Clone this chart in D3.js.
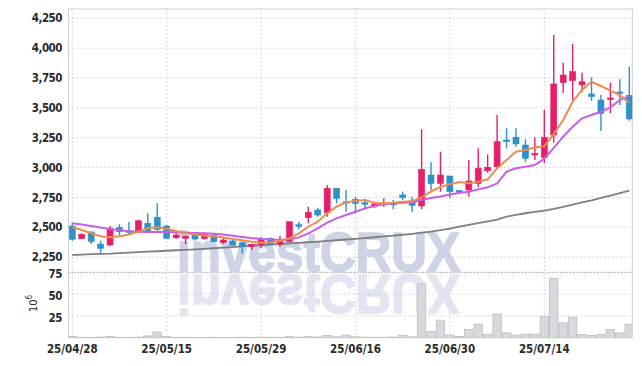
<!DOCTYPE html>
<html>
<head>
<meta charset="utf-8">
<script src="https://cdn.jsdelivr.net/npm/d3@7"></script>
<style>
  body { margin: 0; background: #fff; }
  svg { display: block; }
</style>
</head>
<body>
<div id="chart"></div>
<script>
const dates = ["25/04/28","25/04/29","25/04/30","25/05/02","25/05/07","25/05/08","25/05/09","25/05/12","25/05/13","25/05/14",
  "25/05/15","25/05/16","25/05/19","25/05/20","25/05/21","25/05/22","25/05/23","25/05/26","25/05/27","25/05/28",
  "25/05/29","25/05/30","25/06/02","25/06/04","25/06/05","25/06/09","25/06/10","25/06/11","25/06/12","25/06/13",
  "25/06/16","25/06/17","25/06/18","25/06/19","25/06/20","25/06/23","25/06/24","25/06/25","25/06/26","25/06/27",
  "25/06/30","25/07/01","25/07/02","25/07/03","25/07/04","25/07/07","25/07/08","25/07/09","25/07/10","25/07/11",
  "25/07/14","25/07/15","25/07/16","25/07/17","25/07/18","25/07/21","25/07/22","25/07/23","25/07/24","25/07/25"]

const open = [2511,2405,2461,2360,2352,2497,2472,2463,2534,2584, 2511,2413,2408,2442,2405,2436,2374,2386,2371,2341,
  2358,2408,2360,2380,2522,2581,2645,2622,2827,2715, 2735,2706,2678,2693,2701,2771,2721,2679,2938,2868,
  2930,2808,2812,2868,2974,3007,3231,3254,3189,3111, 3086,3273,3711,3728,3692,3616,3566,3578,3633,3605]
const high = [2539,2450,2466,2388,2511,2525,2545,2563,2617,2701, 2522,2450,2430,2458,2455,2453,2408,2400,2380,2363,
  2419,2416,2427,2547,2547,2673,2664,2854,2827,2812, 2757,2735,2712,2743,2729,2799,2757,3321,3044,3133,
  2930,2812,3064,3162,3111,3440,3329,3329,3237,3254, 3482,4110,3878,4035,3795,3756,3608,3711,3740,3845]
const low = [2388,2400,2360,2287,2343,2436,2442,2455,2458,2472, 2400,2402,2360,2388,2397,2374,2363,2349,2282,2310,
  2324,2352,2338,2380,2483,2534,2589,2589,2701,2631, 2617,2645,2664,2673,2651,2729,2626,2651,2812,2798,
  2743,2790,2757,2835,2957,3003,3162,3175,3049,3064, 3036,3209,3627,3566,3635,3560,3306,3455,3524,3393]
const close = [2400,2441,2380,2324,2492,2463,2458,2555,2472,2483, 2408,2436,2427,2402,2444,2380,2394,2350,2338,2358,
  2402,2358,2386,2547,2514,2626,2603,2827,2743,2706, 2701,2701,2695,2701,2693,2748,2684,2986,2868,2938,
  2798,2796,2888,2994,3003,3217,3217,3198,3078,3119, 3254,3700,3775,3803,3719,3594,3455,3583,3627,3407]

// volume, in 10^6 shares
const volume = [1.5,0.5,0.3,0.8,1.5,0.5,0.4,0.6,2,6.5, 1.5,0.4,0.5,0.4,0.4,0.5,0.3,0.4,0.6,0.4,
  0.6,0.5,0.4,1.2,0.6,1.2,0.8,2.5,1,3, 1,0.6,0.5,0.5,0.7,2.5,1,62,7,20,
  3,1.5,9.5,15.5,4,27,5.5,3,4,4, 24.5,68,17,23.5,3.8,2.5,3.8,9.5,5.5,15.5]

// moving averages as drawn on the chart
const ma5 = [2500,2478,2450,2425,2418,2425,2440,2465,2492,2500, 2488,2470,2452,2440,2432,2425,2414,2402,2392,2380,
  2372,2375,2385,2408,2450,2505,2547,2617,2673,2710, 2720,2729,2705,2700,2706,2715,2718,2752,2800,2838,
  2862,2880,2870,2882,2902,2994,3064,3133,3147,3168, 3178,3280,3398,3552,3650,3719,3683,3644,3608,3543]
const ma20 = [2534,2524,2512,2499,2486,2476,2468,2464,2462,2462, 2460,2458,2455,2452,2450,2446,2440,2430,2420,2410,
  2402,2398,2395,2400,2416,2450,2492,2539,2575,2603, 2631,2659,2678,2693,2701,2706,2710,2729,2745,2758,
  2775,2788,2798,2818,2835,2868,2966,2994,3008,3022, 3075,3165,3259,3342,3413,3440,3468,3505,3566,3599]
const ma120 = [2268,2272,2275,2278,2280,2284,2288,2292,2296,2300, 2304,2308,2312,2316,2320,2325,2330,2335,2340,2345,
  2350,2355,2360,2365,2370,2375,2380,2386,2392,2398, 2404,2410,2417,2424,2431,2438,2446,2455,2465,2477,
  2490,2505,2520,2535,2550,2565,2590,2605,2618,2630, 2640,2655,2672,2690,2708,2726,2746,2766,2786,2807]

const priceTicks = [2250,2500,2750,3000,3250,3500,3750,4000,4250]
const volTicks = [25,50,75]
const labelIdx = [0,10,20,30,40,50]

const size = [642, 366]
const plot = {left: 68.5, right: 632.3, top: 9, split: 272.3, bottom: 337.7}

const upColor = "#e61f6b"
const downColor = "#2e91c7"
const gridColor = "#c6cade"
const font = "'DejaVu Sans Condensed', 'DejaVu Sans', sans-serif"

const candles = dates.map((d, i) => ({i, date: d, o: open[i], h: high[i], l: low[i], c: close[i], v: volume[i]}))

const x = d3.scaleLinear()
  .domain([-0.4, dates.length - 1 + 0.32])
  .range([plot.left, plot.right])
const step = x(1) - x(0)

const y = d3.scaleLinear()
  .domain([2250, 4250])
  .range([257.2, 18.3])

const yv = d3.scaleLinear()
  .domain([0, 75])
  .range([plot.bottom, plot.split])

const svg = d3.create("svg")
  .attr("width", size[0])
  .attr("height", size[1])

const defs = svg.append("defs")
defs.append("clipPath").attr("id", "clipPrice")
  .append("rect")
    .attr("x", plot.left).attr("y", plot.top)
    .attr("width", plot.right - plot.left).attr("height", plot.split - plot.top)
defs.append("clipPath").attr("id", "clipVol")
  .append("rect")
    .attr("x", plot.left).attr("y", plot.split)
    .attr("width", plot.right - plot.left).attr("height", plot.bottom - plot.split)

// watermark + its reflection (the reflection reuses the same text)
defs.append("text")
  .attr("id", "wm")
  .attr("x", 177).attr("y", 271)
  .attr("font-family", "'Liberation Sans', Arial, sans-serif")
  .attr("font-weight", "bold").attr("font-size", 56)
  .attr("textLength", 283).attr("lengthAdjust", "spacingAndGlyphs")
  .attr("fill", "#c2c9e0").attr("stroke", "#c2c9e0").attr("stroke-width", 1.6)
  .text("investCRUX")
svg.append("use").attr("href", "#wm").attr("opacity", 0.8)
svg.append("use").attr("href", "#wm").attr("opacity", 0.45)
  .attr("transform", "translate(0,546) scale(1,-1)")

// grid
const grid = svg.append("g")
  .attr("stroke", gridColor)
  .attr("stroke-dasharray", "1.5,2.5")
grid.selectAll(".hp")
  .data(priceTicks)
  .join("line")
    .attr("x1", plot.left).attr("x2", plot.right)
    .attr("y1", d => y(d)).attr("y2", d => y(d))
grid.selectAll(".hv")
  .data(volTicks.filter(d => d < 75))
  .join("line")
    .attr("x1", plot.left).attr("x2", plot.right)
    .attr("y1", d => yv(d)).attr("y2", d => yv(d))
grid.selectAll(".vx")
  .data(labelIdx)
  .join("line")
    .attr("x1", d => x(d)).attr("x2", d => x(d))
    .attr("y1", plot.top).attr("y2", plot.bottom)

// frame and pane separator
svg.append("rect")
  .attr("x", plot.left).attr("y", plot.top)
  .attr("width", plot.right - plot.left).attr("height", plot.bottom - plot.top)
  .attr("fill", "none").attr("stroke", "#cfcfd6")
svg.append("line")
  .attr("x1", plot.left).attr("x2", plot.right)
  .attr("y1", plot.split).attr("y2", plot.split)
  .attr("stroke", "#9a9aa4").attr("stroke-dasharray", "1.5,1.5")

// volume bars
svg.append("g")
  .attr("clip-path", "url(#clipVol)")
  .selectAll("rect")
  .data(candles)
  .join("rect")
    .attr("x", d => x(d.i) - step / 2 + 0.5)
    .attr("width", step - 1)
    .attr("y", d => yv(d.v))
    .attr("height", d => yv(0) - yv(d.v))
    .attr("fill", "#d9d9db")
    .attr("stroke", "#bdbdc2")
    .attr("stroke-width", 0.8)

// moving averages
const priceG = svg.append("g").attr("clip-path", "url(#clipPrice)")
const maLine = arr => d3.line()
  .x((_, i) => x(i))
  .y(d => y(d))(arr)

priceG.append("path")
  .attr("d", maLine(ma120))
  .attr("fill", "none").attr("stroke", "#7f7f7f").attr("stroke-width", 1.8)

// candles
const cg = priceG.append("g")
  .selectAll("g")
  .data(candles)
  .join("g")
    .attr("stroke", d => d.c >= d.o ? upColor : downColor)
    .attr("fill", d => d.c >= d.o ? upColor : downColor)
cg.append("line")
  .attr("x1", d => x(d.i)).attr("x2", d => x(d.i))
  .attr("y1", d => y(d.h)).attr("y2", d => y(d.l))
  .attr("stroke-width", 1.4)
cg.append("rect")
  .attr("x", d => x(d.i) - 3)
  .attr("width", 6)
  .attr("y", d => y(Math.max(d.o, d.c)))
  .attr("height", d => Math.max(1.5, Math.abs(y(d.o) - y(d.c))))
  .attr("stroke-width", 0.6)

priceG.append("path")
  .attr("d", maLine(ma20))
  .attr("fill", "none").attr("stroke", "#c85ee6").attr("stroke-width", 2)
priceG.append("path")
  .attr("d", maLine(ma5))
  .attr("fill", "none").attr("stroke", "#ef8a52").attr("stroke-width", 2)

// axes labels
const labels = svg.append("g")
  .attr("font-family", font)
  .attr("font-size", 11.5)
  .attr("font-weight", "bold")
  .attr("fill", "#2a2a2a")

labels.selectAll(".py")
  .data(priceTicks)
  .join("text")
    .attr("x", 62).attr("y", d => y(d))
    .attr("dy", "0.36em")
    .attr("text-anchor", "end")
    .attr("letter-spacing", -0.5)
    .text(d => d3.format(",")(d))

labels.selectAll(".vy")
  .data(volTicks)
  .join("text")
    .attr("x", 62).attr("y", d => yv(d))
    .attr("dy", "0.5em")
    .attr("text-anchor", "end")
    .attr("letter-spacing", -0.5)
    .text(d => d)

labels.selectAll(".xl")
  .data(labelIdx)
  .join("text")
    .attr("x", d => x(d)).attr("y", 353)
    .attr("text-anchor", "middle")
    .text(d => dates[d])

const unit = labels.append("text")
  .attr("transform", "translate(37,312) rotate(-90)")
  .attr("font-size", 11)
  .attr("font-weight", "normal")
  .text("10")
unit.append("tspan")
  .attr("dy", -5)
  .attr("font-size", 8)
  .text("6")

d3.select("#chart").append(() => svg.node())
</script>
</body>
</html>
